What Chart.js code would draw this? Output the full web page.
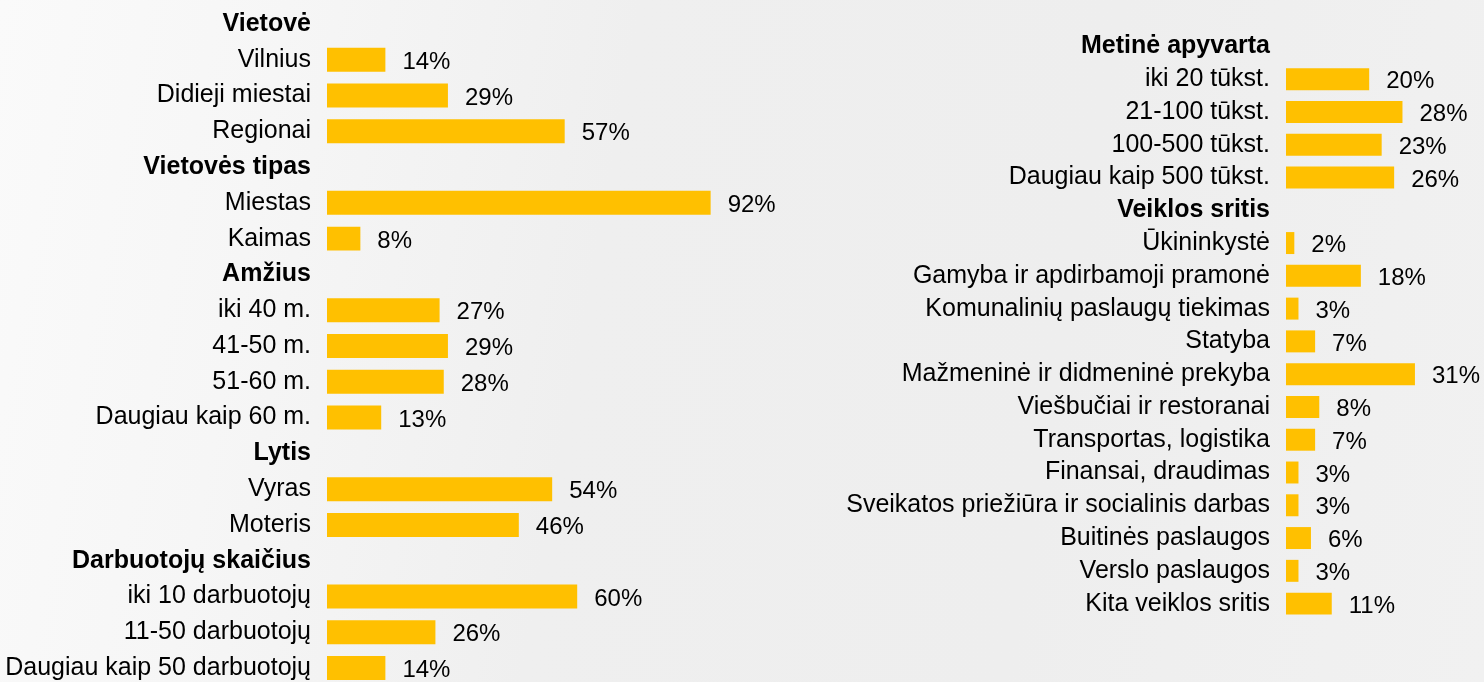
<!DOCTYPE html>
<html lang="lt">
<head>
<meta charset="utf-8">
<title>Respondentų profilis</title>
<script src="https://cdn.jsdelivr.net/npm/chart.js@4.4.1/dist/chart.umd.min.js"></script>
<style>
    html, body {
        margin: 0;
        padding: 0;
        width: 1484px;
        height: 682px;
        overflow: hidden;
        background: linear-gradient(100deg, #fafafa 0%, #f6f6f6 18%, #efefef 40%, #eeeeee 70%, #f1f1f1 100%);
        font-family: "Liberation Sans", Arial, sans-serif;
    }
    .chart-box {
        position: absolute;
    }
    #leftBox {
        left: 0;
        top: 6px;
        width: 800px;
        height: 680px;
    }
    #rightBox {
        left: 830px;
        top: 30px;
        width: 654px;
        height: 590px;
    }
</style>
</head>
<body>
<div class="chart-box" id="leftBox"><canvas id="leftChart"></canvas></div>
<div class="chart-box" id="rightBox"><canvas id="rightChart"></canvas></div>

<script>
// ===================================
// Data (null = group heading row)
// ===================================

const leftCategories = [
    'Vietovė', 'Vilnius', 'Didieji miestai', 'Regionai',
    'Vietovės tipas', 'Miestas', 'Kaimas',
    'Amžius', 'iki 40 m.', '41-50 m.', '51-60 m.', 'Daugiau kaip 60 m.',
    'Lytis', 'Vyras', 'Moteris',
    'Darbuotojų skaičius', 'iki 10 darbuotojų', '11-50 darbuotojų', 'Daugiau kaip 50 darbuotojų'
];
const leftValues = [
    null, 14, 29, 57,
    null, 92, 8,
    null, 27, 29, 28, 13,
    null, 54, 46,
    null, 60, 26, 14
];

const rightCategories = [
    'Metinė apyvarta', 'iki 20 tūkst.', '21-100 tūkst.', '100-500 tūkst.', 'Daugiau kaip 500 tūkst.',
    'Veiklos sritis', 'Ūkininkystė', 'Gamyba ir apdirbamoji pramonė', 'Komunalinių paslaugų tiekimas',
    'Statyba', 'Mažmeninė ir didmeninė prekyba', 'Viešbučiai ir restoranai', 'Transportas, logistika',
    'Finansai, draudimas', 'Sveikatos priežiūra ir socialinis darbas', 'Buitinės paslaugos',
    'Verslo paslaugos', 'Kita veiklos sritis'
];
const rightValues = [
    null, 20, 28, 23, 26,
    null, 2, 18, 3,
    7, 31, 8, 7,
    3, 3, 6,
    3, 11
];

const BAR_COLOR = '#FFC000';
const TEXT_COLOR = '#000000';
const FONT_FAMILY = '"Liberation Sans", Arial, sans-serif';

// ===================================
// Value labels plugin (e.g. "14%")
// ===================================

const valueLabels = {
    id: 'valueLabels',
    afterDatasetsDraw(chart) {
        const ctx = chart.ctx;
        const values = chart.data.datasets[0].data;
        const meta = chart.getDatasetMeta(0);
        ctx.save();
        ctx.font = '24px ' + FONT_FAMILY;
        ctx.fillStyle = TEXT_COLOR;
        ctx.textAlign = 'left';
        ctx.textBaseline = 'middle';
        meta.data.forEach((bar, i) => {
            const v = values[i];
            if (v === null || v === undefined) return;
            ctx.fillText(v + '%', bar.x + 17, bar.y + 2.5);
        });
        ctx.restore();
    }
};

// ===================================
// Chart builder
// ===================================

function buildChart(canvasId, labels, values, axisWidth, xMax, padRight) {
    const canvas = document.getElementById(canvasId);
    if (!canvas) return null;
    const ctx = canvas.getContext('2d');

    return new Chart(ctx, {
        type: 'bar',
        data: {
            labels: labels,
            datasets: [{
                data: values,
                backgroundColor: BAR_COLOR,
                borderWidth: 0,
                categoryPercentage: 1,
                barPercentage: 0.67
            }]
        },
        options: {
            indexAxis: 'y',
            responsive: true,
            maintainAspectRatio: false,
            animation: false,
            layout: { padding: { left: 0, top: 0, bottom: 0, right: padRight } },
            plugins: {
                legend: { display: false },
                tooltip: { enabled: false }
            },
            scales: {
                x: {
                    display: false,
                    min: 0,
                    max: xMax
                },
                y: {
                    grid: { display: false, drawTicks: false },
                    border: { display: false },
                    ticks: {
                        color: TEXT_COLOR,
                        padding: 16,
                        autoSkip: false,
                        font: function(context) {
                            const heading = values[context.index] === null;
                            return {
                                family: FONT_FAMILY,
                                size: 25,
                                weight: heading ? 'bold' : 'normal'
                            };
                        }
                    },
                    afterFit: function(scale) {
                        scale.width = axisWidth;
                        scale.paddingTop = 0;
                        scale.paddingBottom = 0;
                    }
                }
            }
        },
        plugins: [valueLabels]
    });
}

document.addEventListener('DOMContentLoaded', function() {
    // Left: location, age, gender, employees
    buildChart('leftChart', leftCategories, leftValues, 327, 100, 56);

    // Right: annual turnover, field of activity
    buildChart('rightChart', rightCategories, rightValues, 456, 47.6, 0);
});
</script>
</body>
</html>
